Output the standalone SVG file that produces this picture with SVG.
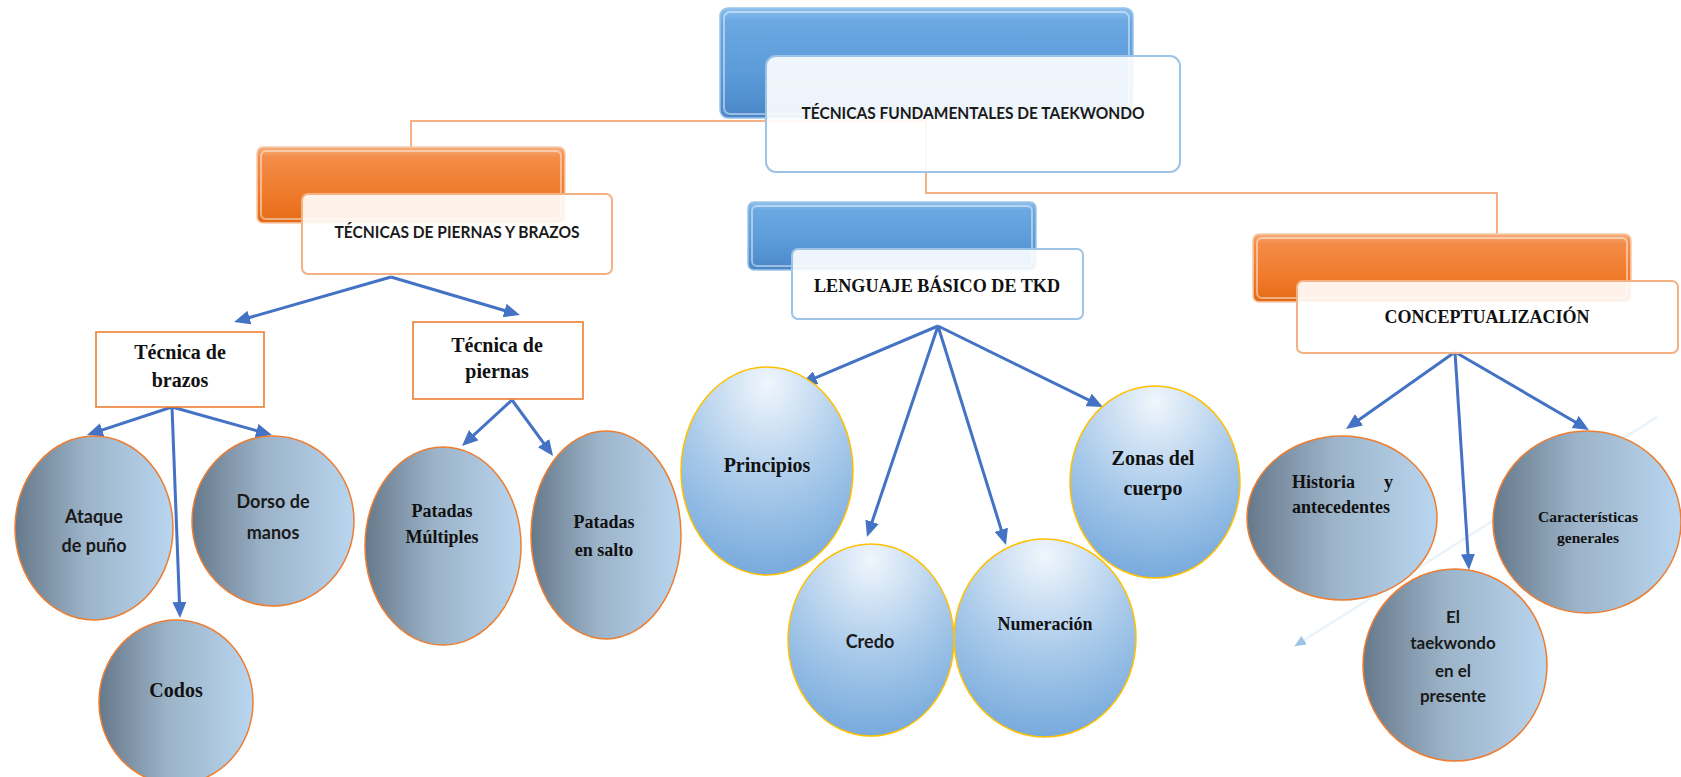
<svg xmlns="http://www.w3.org/2000/svg" width="1681" height="777" viewBox="0 0 1681 777">
<defs>
  <linearGradient id="gBlue" x1="0" y1="0" x2="0" y2="1">
    <stop offset="0" stop-color="#8CC0EE"/>
    <stop offset="0.12" stop-color="#6BA8E2"/>
    <stop offset="0.6" stop-color="#5B9BD8"/>
    <stop offset="1" stop-color="#4A86C9"/>
  </linearGradient>
  <linearGradient id="gOrange" x1="0" y1="0" x2="0" y2="1">
    <stop offset="0" stop-color="#F7AE7C"/>
    <stop offset="0.14" stop-color="#F38C48"/>
    <stop offset="0.6" stop-color="#F07B2C"/>
    <stop offset="1" stop-color="#E46C17"/>
  </linearGradient>
  <linearGradient id="gSlate" x1="0" y1="0" x2="1" y2="0">
    <stop offset="0" stop-color="#66798B"/>
    <stop offset="0.45" stop-color="#9CB3C8"/>
    <stop offset="1" stop-color="#B9D6F0"/>
  </linearGradient>
  <radialGradient id="gSky" cx="0.5" cy="0.08" r="1" fx="0.5" fy="0.08">
    <stop offset="0" stop-color="#F0F6FC"/>
    <stop offset="0.5" stop-color="#A9CAEA"/>
    <stop offset="1" stop-color="#6EA4DA"/>
  </radialGradient>
  <marker id="arr" viewBox="0 0 16 14" refX="10" refY="7" markerWidth="16" markerHeight="14" markerUnits="userSpaceOnUse" orient="auto">
    <path d="M0,0 L16,7 L0,14 z" fill="#4472C4"/>
  </marker>
  <marker id="arrFaint" viewBox="0 0 16 14" refX="10" refY="7" markerWidth="12" markerHeight="10" markerUnits="userSpaceOnUse" orient="auto">
    <path d="M0,0 L16,7 L0,14 z" fill="#9DC3E6"/>
  </marker>
  <style>
    .hdrB{fill:url(#gBlue);stroke:#9DC3E6;stroke-width:1.5}
    .hdrO{fill:url(#gOrange);stroke:#F8CBAD;stroke-width:1.5}
    .hl{fill:none;stroke:#FFFFFF;stroke-opacity:0.45;stroke-width:2}
    .wB{fill:#FFFFFF;fill-opacity:0.9;stroke:#9DC3E6;stroke-width:2}
    .wO{fill:#FFFFFF;fill-opacity:0.9;stroke:#F4B183;stroke-width:2}
    .sq{fill:#FFFFFF;stroke:#ED7D31;stroke-width:1.6}
    .slate{fill:url(#gSlate);stroke:#ED7D31;stroke-width:1.5}
    .sky{fill:url(#gSky);stroke:#FFC000;stroke-width:1.5}
    .org{fill:none;stroke:#F4B183;stroke-width:2}
    .arw{fill:none;stroke:#4472C4;stroke-width:3;marker-end:url(#arr)}
    .sans{font-family:Lato,"Liberation Sans",sans-serif;font-weight:700;fill:#1A1A1A;text-anchor:middle}
    .serif{font-family:"Liberation Serif","DejaVu Serif",serif;font-weight:700;fill:#111111;text-anchor:middle}
  </style>
</defs>
<rect width="1681" height="777" fill="#FFFFFF"/>

<g id="connectors">
  <path class="org" d="M926,121 H411 V147"/>
  <path class="org" d="M926,121 V193 H1497 V234"/>
  <line x1="1657" y1="417" x2="1298" y2="644" stroke="#C5DCF1" stroke-opacity="0.35" stroke-width="2.5" marker-end="url(#arrFaint)"/>
  <line class="arw" x1="391" y1="277" x2="239.8" y2="320.3"/>
  <line class="arw" x1="391" y1="277" x2="514.2" y2="313.3"/>
  <line class="arw" x1="172" y1="407" x2="92.7" y2="433.1"/>
  <line class="arw" x1="172" y1="407" x2="266.2" y2="433.4"/>
  <line class="arw" x1="172" y1="407" x2="179.8" y2="612"/>
  <line class="arw" x1="512" y1="400" x2="466.4" y2="441.9"/>
  <line class="arw" x1="512" y1="400" x2="549.5" y2="451.2"/>
  <line class="arw" x1="938" y1="326" x2="806.5" y2="381.7"/>
  <line class="arw" x1="938" y1="326" x2="868.9" y2="531.3"/>
  <line class="arw" x1="938" y1="326" x2="1004.2" y2="539.3"/>
  <line class="arw" x1="938" y1="326" x2="1097.6" y2="404.4"/>
  <line class="arw" x1="1455" y1="352" x2="1350.9" y2="425.5"/>
  <line class="arw" x1="1455" y1="352" x2="1468.6" y2="564"/>
  <line class="arw" x1="1455" y1="352" x2="1583.8" y2="427"/>
</g>

<g id="n-root">
  <rect class="hdrB" x="720" y="8" width="413" height="110" rx="8"/>
  <rect class="hl" x="724" y="12" width="405" height="102" rx="6"/>
  <rect class="wB" x="766" y="56" width="414" height="116" rx="10"/>
  <text class="sans" x="973" y="119" font-size="17.5" textLength="343" lengthAdjust="spacingAndGlyphs">TÉCNICAS FUNDAMENTALES DE TAEKWONDO</text>
</g>

<g id="n-piernas-brazos">
  <rect class="hdrO" x="257" y="147" width="308" height="76" rx="6"/>
  <rect class="hl" x="261" y="151" width="300" height="68" rx="5"/>
  <rect class="wO" x="302" y="194" width="310" height="80" rx="6"/>
  <text class="sans" x="457" y="238" font-size="17.5" textLength="245" lengthAdjust="spacingAndGlyphs">TÉCNICAS DE PIERNAS Y BRAZOS</text>
</g>

<g id="n-lenguaje">
  <rect class="hdrB" x="748" y="202" width="288" height="68" rx="6"/>
  <rect class="hl" x="752" y="206" width="280" height="60" rx="5"/>
  <rect class="wB" x="792" y="249" width="291" height="70" rx="6"/>
  <text class="serif" x="937" y="292" font-size="19" textLength="246" lengthAdjust="spacingAndGlyphs">LENGUAJE BÁSICO DE TKD</text>
</g>

<g id="n-concept">
  <rect class="hdrO" x="1253" y="234" width="378" height="68" rx="6"/>
  <rect class="hl" x="1257" y="238" width="370" height="60" rx="5"/>
  <rect class="wO" x="1297" y="281" width="381" height="72" rx="6"/>
  <text class="serif" x="1487" y="323" font-size="18" textLength="205" lengthAdjust="spacingAndGlyphs">CONCEPTUALIZACIÓN</text>
</g>

<g id="n-brazos">
  <rect class="sq" x="96" y="332" width="168" height="75"/>
  <text class="serif" x="180" y="359" font-size="20">Técnica de</text>
  <text class="serif" x="180" y="387" font-size="20">brazos</text>
</g>

<g id="n-piernas">
  <rect class="sq" x="413" y="322" width="170" height="77"/>
  <text class="serif" x="497" y="352" font-size="20">Técnica de</text>
  <text class="serif" x="497" y="378" font-size="20">piernas</text>
</g>

<g id="n-ataque">
  <ellipse class="slate" cx="94" cy="528" rx="79" ry="92"/>
  <text class="sans" x="94" y="523" font-size="18">Ataque</text>
  <text class="sans" x="94" y="552" font-size="18">de puño</text>
</g>

<g id="n-dorso">
  <ellipse class="slate" cx="273" cy="521" rx="81" ry="85"/>
  <text class="sans" x="273" y="508" font-size="18">Dorso de</text>
  <text class="sans" x="273" y="539" font-size="18">manos</text>
</g>

<g id="n-codos">
  <ellipse class="slate" cx="176" cy="702" rx="77" ry="82"/>
  <text class="serif" x="176" y="697" font-size="20">Codos</text>
</g>

<g id="n-multiples">
  <ellipse class="slate" cx="443" cy="546" rx="78" ry="99"/>
  <text class="serif" x="442" y="517" font-size="18">Patadas</text>
  <text class="serif" x="442" y="543" font-size="18">Múltiples</text>
</g>

<g id="n-salto">
  <ellipse class="slate" cx="606" cy="535" rx="75" ry="104"/>
  <text class="serif" x="604" y="528" font-size="18">Patadas</text>
  <text class="serif" x="604" y="556" font-size="18">en salto</text>
</g>

<g id="n-principios">
  <ellipse class="sky" cx="767" cy="471" rx="86" ry="104"/>
  <text class="serif" x="767" y="472" font-size="20">Principios</text>
</g>

<g id="n-credo">
  <ellipse class="sky" cx="871" cy="640" rx="83" ry="96"/>
  <text class="sans" x="870" y="648" font-size="18">Credo</text>
</g>

<g id="n-numeracion">
  <ellipse class="sky" cx="1045" cy="638" rx="91" ry="99"/>
  <text class="serif" x="1045" y="630" font-size="19" textLength="95" lengthAdjust="spacingAndGlyphs">Numeración</text>
</g>

<g id="n-zonas">
  <ellipse class="sky" cx="1155" cy="482" rx="85" ry="96"/>
  <text class="serif" x="1153" y="465" font-size="20">Zonas del</text>
  <text class="serif" x="1153" y="495" font-size="20">cuerpo</text>
</g>

<g id="n-historia">
  <ellipse class="slate" cx="1342" cy="518" rx="95" ry="82"/>
  <text class="serif" x="1292" y="488" font-size="18" style="text-anchor:start">Historia</text>
  <text class="serif" x="1393" y="488" font-size="18" style="text-anchor:end">y</text>
  <text class="serif" x="1341" y="513" font-size="18">antecedentes</text>
</g>

<g id="n-caracteristicas">
  <ellipse class="slate" cx="1587" cy="522" rx="94" ry="91"/>
  <text class="serif" x="1588" y="522" font-size="15.5">Características</text>
  <text class="serif" x="1588" y="543" font-size="15.5">generales</text>
</g>

<g id="n-presente">
  <ellipse class="slate" cx="1455" cy="665" rx="92" ry="96"/>
  <text class="sans" x="1453" y="623" font-size="17">El</text>
  <text class="sans" x="1453" y="649" font-size="17">taekwondo</text>
  <text class="sans" x="1453" y="677" font-size="17">en el</text>
  <text class="sans" x="1453" y="702" font-size="17">presente</text>
</g>
</svg>
